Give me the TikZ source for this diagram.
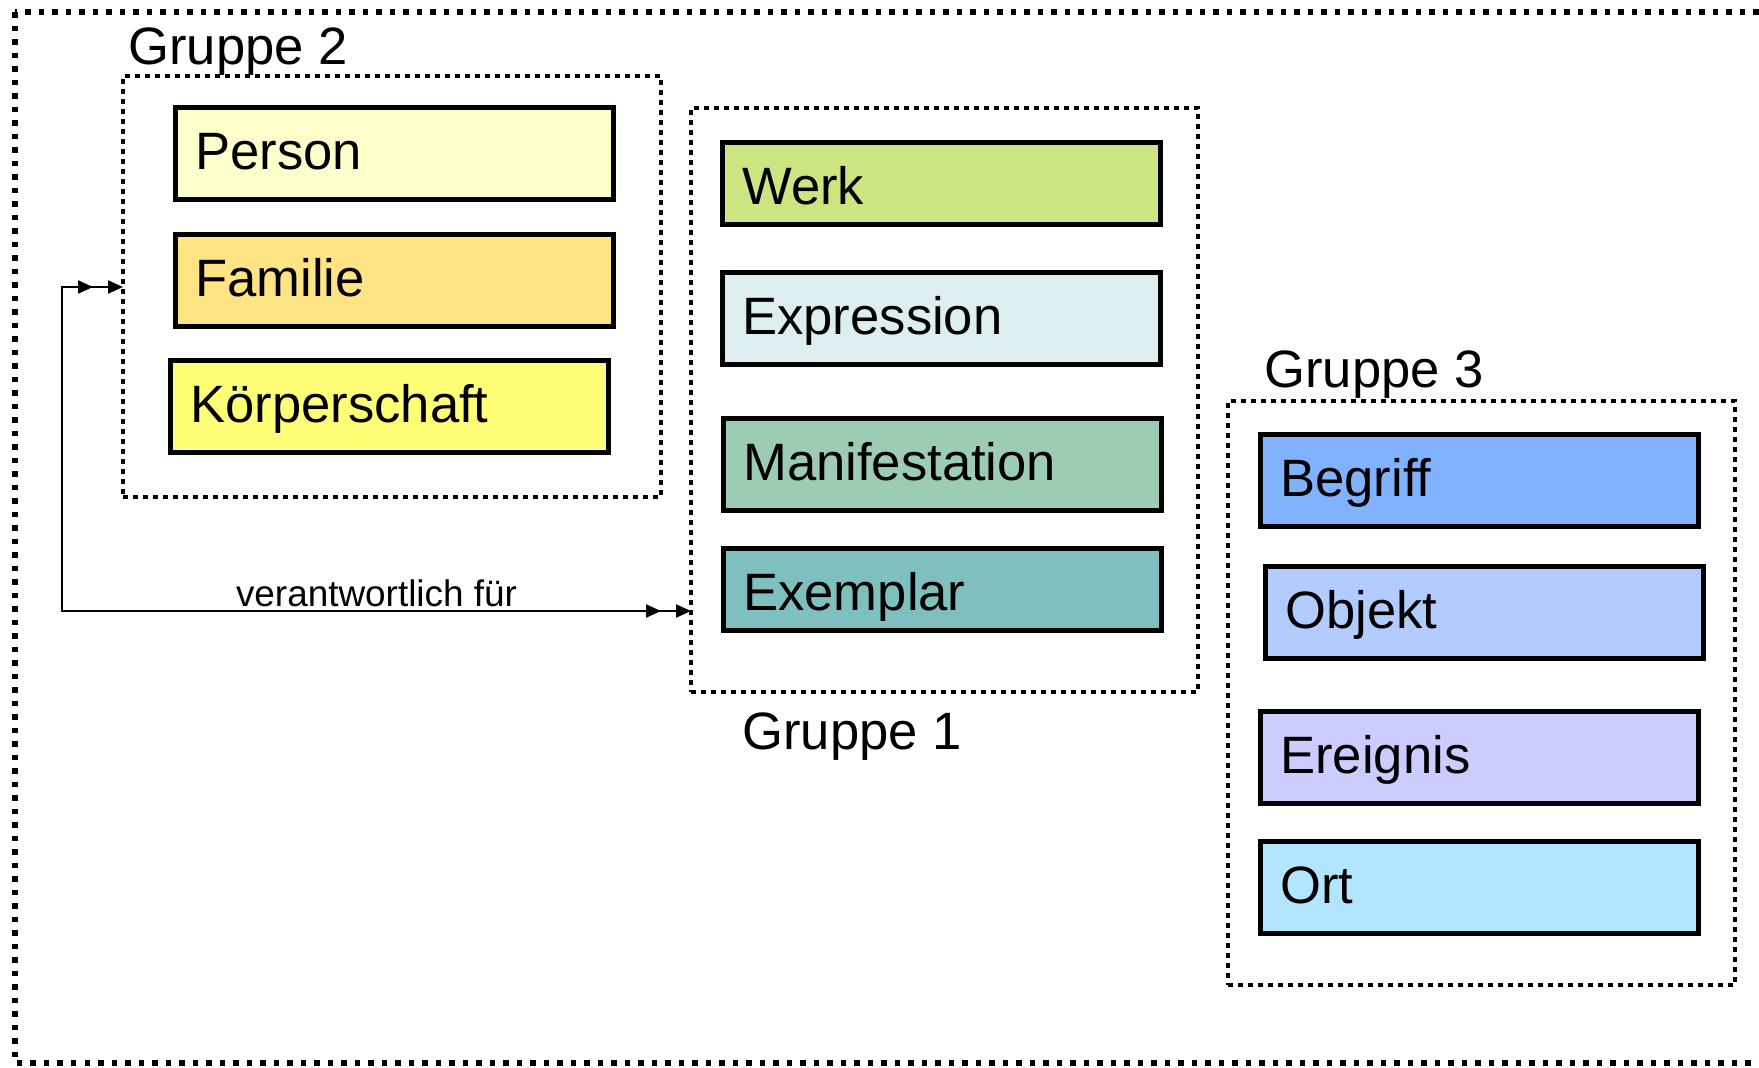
\documentclass[tikz,border=0pt]{standalone}
\usepackage{fontspec}
\setmainfont{Liberation Sans}
\usetikzlibrary{arrows.meta,decorations.markings}
\definecolor{cPerson}{HTML}{FFFFCC}
\definecolor{cFamilie}{HTML}{FFE484}
\definecolor{cKoerp}{HTML}{FFFF77}
\definecolor{cWerk}{HTML}{CDE580}
\definecolor{cExpr}{HTML}{DDEEF0}
\definecolor{cMani}{HTML}{9CCCB4}
\definecolor{cExem}{HTML}{80BFBF}
\definecolor{cBegr}{HTML}{80B2FF}
\definecolor{cObj}{HTML}{B2CCFF}
\definecolor{cEreig}{HTML}{CCCCFF}
\definecolor{cOrt}{HTML}{B2E5FF}
\newcommand\bigfnt{\fontsize{26.3pt}{31pt}\selectfont}
\newcommand\smallfnt{\fontsize{18.45pt}{22pt}\selectfont}
\tikzset{
  ent/.style={draw, line width=2.3pt, anchor=north west, inner xsep=10pt, inner ysep=0pt,
    align=left, minimum height=46pt, text width=199pt, text height=18pt, text depth=2pt, font=\bigfnt},
  shortbox/.style={minimum height=41pt, text height=23pt},
  grp/.style={draw, line width=2.3pt, dash pattern=on 2.4pt off 2.6pt, anchor=north west, inner sep=0pt, outer sep=0pt},
  outerframe/.style={line width=2.75pt, dash pattern=on 2.75pt off 4pt},
  lbl/.style={anchor=base west, inner sep=0pt, font=\bigfnt},
  conn/.style={line width=1.1pt,
    {Triangle[length=7.5pt,width=6.5pt]}-{Triangle[length=7.5pt,width=6.5pt]},
    postaction={decorate},
    decoration={markings,
      mark=at position 15pt with {\arrowreversed{Triangle[length=7.5pt,width=6.5pt]}},
      mark=at position -15pt with {\arrow{Triangle[length=7.5pt,width=6.5pt]}}}}
}
\begin{document}
\begin{tikzpicture}[x=0.5pt,y=-0.5pt]
\useasboundingbox (0,0) rectangle (1759,1067);
\draw[outerframe] (15,12) rectangle (1800,1063);

% group boxes
\node[grp, minimum width=269pt, minimum height=210.5pt] (g2) at (123,76) {};
\node[grp, minimum width=253.5pt, minimum height=292pt] (g1) at (691,108) {};
\node[grp, minimum width=253.5pt, minimum height=292pt] (g3) at (1228,401) {};

\node[lbl] (l2) at (128,64) {Gruppe 2};
\node[lbl] (l1) at (742,749) {Gruppe 1};
\node[lbl] (l3) at (1264,387) {Gruppe 3};

% Gruppe 2
\node[ent, fill=cPerson] (person) at (173,105) {Person};
\node[ent, fill=cFamilie] (familie) at (173,232) {Familie};
\node[ent, fill=cKoerp] (koerp) at (168,358) {Körperschaft};

% Gruppe 1
\node[ent, shortbox, fill=cWerk] (werk) at (720,140) {Werk};
\node[ent, fill=cExpr] (expr) at (720,270) {Expression};
\node[ent, fill=cMani] (mani) at (721,416) {Manifestation};
\node[ent, shortbox, fill=cExem] (exem) at (721,546) {Exemplar};

% Gruppe 3
\node[ent, fill=cBegr] (begr) at (1258,432) {Begriff};
\node[ent, fill=cObj] (obj) at (1263,564) {Objekt};
\node[ent, fill=cEreig] (ereig) at (1258,709) {Ereignis};
\node[ent, fill=cOrt] (ort) at (1258,839) {Ort};

% connector
\coordinate (ct) at (62,287);
\coordinate (cb) at (62,611);
\draw[conn] (g2.west |- ct) -- (ct) -- (cb) -- (g1.west |- cb)
  node[midway, anchor=base, yshift=2.5pt, inner sep=0pt, font=\smallfnt] (rel) {verantwortlich für};
\end{tikzpicture}
\end{document}
